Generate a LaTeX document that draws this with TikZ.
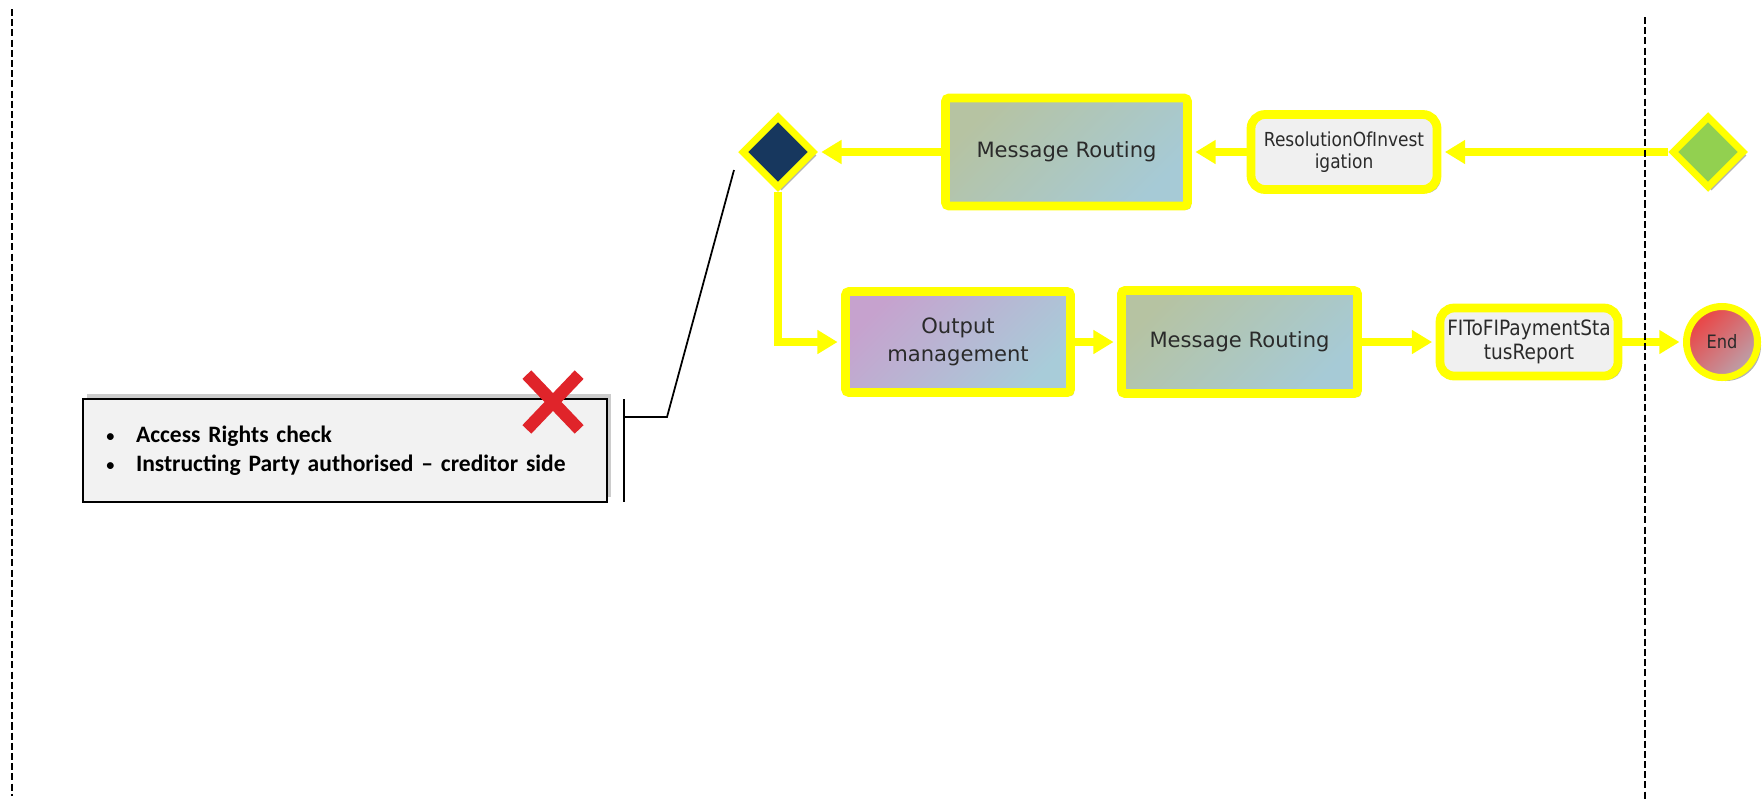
\documentclass[tikz,border=0pt]{standalone}
\usepackage{fontspec}
\setmainfont{Carlito}
\newfontfamily\boxfont{DejaVu Sans}
\newfontfamily\msgfont{DejaVu Sans}[FakeStretch=0.88]
\usepackage{xcolor}
\usepackage{tikz}
\usetikzlibrary{shapes,arrows.meta,positioning,shadows,calc}
\definecolor{clrHilite}{HTML}{FFFF00}
\definecolor{clrGate}{HTML}{17375E}
\definecolor{clrStart}{HTML}{92D050}
\definecolor{clrRouteA}{HTML}{B6C3A2}
\definecolor{clrRouteB}{HTML}{A6CAD6}
\definecolor{clrOutA}{HTML}{C6A2CE}
\definecolor{clrOutB}{HTML}{A8CCD9}
\definecolor{clrMsg}{HTML}{F0F0F0}
\definecolor{clrEndA}{HTML}{EC4242}
\definecolor{clrEndB}{HTML}{BBA2AC}
\definecolor{clrNote}{HTML}{F2F2F2}
\definecolor{clrCross}{HTML}{E0242A}
\definecolor{clrLabel}{HTML}{2A2A2A}
\newcommand{\notebullet}{\makebox[0.66cm][l]{\hspace{0.05cm}{\mdseries\fontsize{11}{11}\selectfont\textbullet}}}
\tikzset{
  shade/.style={drop shadow={shadow xshift=2pt, shadow yshift=-2pt,
    opacity=.3, fill=black}},
  procbox/.style={rectangle, rounded corners=2pt, line width=5pt,
    draw=clrHilite, align=center, inner sep=2pt, text=clrLabel,
    font=\boxfont\fontsize{12}{16}\selectfont, shade},
  msgbox/.style={rectangle, rounded corners=8pt, line width=5pt,
    draw=clrHilite, fill=clrMsg, align=center, inner sep=1pt,
    text=clrLabel, font=\msgfont\fontsize{11}{12.5}\selectfont, shade},
  gate/.style={diamond, aspect=1, inner sep=0pt, minimum size=1.45cm,
    line width=4pt, draw=clrHilite, shade},
  endev/.style={circle, inner sep=0pt, minimum size=1.42cm, line width=4pt,
    draw=clrHilite, text=clrLabel, font=\msgfont\fontsize{10.5}{12}\selectfont,
    shade},
  notebox/.style={rectangle, draw=black, line width=1.1pt, fill=clrNote,
    minimum width=10.48cm, minimum height=2.06cm, inner xsep=0.4cm,
    text width=9.68cm, align=left,
    font=\fontsize{13.4}{16.5}\selectfont\bfseries,
    drop shadow={shadow xshift=2.5pt, shadow yshift=3pt, opacity=.2, fill=black}},
  crossmark/.style={cross out, draw=clrCross, line width=7pt,
    minimum width=0.8cm, minimum height=0.85cm, inner sep=0pt},
  flowarr/.style={-{Triangle[length=11.5pt,width=13pt]}, line width=4pt,
    draw=clrHilite, shorten >=2pt},
  lane/.style={line width=1.4pt, dash pattern=on 4pt off 1.8pt},
  callout/.style={line width=1pt, black},
}

\begin{document}
\begin{tikzpicture}
\useasboundingbox (0,0) rectangle (35.28,-15.98);

\def\ytop{-3.04}
\def\ybot{-6.84}

% ── note with the failed check ─────────────────────────────────────────────
\node[notebox] (note) at (6.9,-9.01)
  {\notebullet Access Rights check\\
   \notebullet Instructing Party authorised -- creditor side};
\node[crossmark] (nay) at (11.06,-8.04) {};

\coordinate (cTop) at (12.48,-7.98);
\coordinate (cBot) at (12.48,-10.04);
\coordinate (cKnee) at (12.48,-8.34);
\coordinate (cPin) at (14.68,-3.40);
\draw[callout] (cTop) -- (cBot);
\draw[callout] (cKnee) -- ++(0.86,0) -- (cPin);

% ── top row: incoming message ──────────────────────────────────────────────
\node[gate, fill=clrGate] (gw) at (15.56,\ytop) {};
\node[procbox, minimum width=4.84cm, minimum height=2.16cm,
  top color=clrRouteA, bottom color=clrRouteB, shading angle=45]
  (mr1) at (21.33,\ytop) {Message Routing};
\node[msgbox, minimum width=3.72cm, minimum height=1.5cm]
  (res) at (26.88,\ytop) {ResolutionOfInvest\\igation};
\node[gate, fill=clrStart] (gs) at (34.16,\ytop) {};

\draw[flowarr] (gs) -- (res);
\draw[flowarr] (res) -- (mr1);
\draw[flowarr] (mr1) -- (gw);

% ── bottom row: outgoing status report ─────────────────────────────────────
\node[procbox, minimum width=4.5cm, minimum height=2.02cm,
  top color=clrOutA, bottom color=clrOutB, shading angle=45]
  (om) at (19.16,\ybot) {Output\\management};
\node[procbox, minimum width=4.72cm, minimum height=2.06cm,
  top color=clrRouteA, bottom color=clrRouteB, shading angle=45]
  (mr2) at (24.79,\ybot) {Message Routing};
\node[msgbox, minimum width=3.56cm, minimum height=1.36cm,
  font=\msgfont\fontsize{12}{13.5}\selectfont]
  (fit) at (30.58,\ybot) {FIToFIPaymentSta\\tusReport};
\node[endev, top color=clrEndA, bottom color=clrEndB, shading angle=45]
  (fin) at (34.44,\ybot) {End};

\draw[flowarr] (gw.south) |- (om.west);
\draw[flowarr] (om) -- (mr2);
\draw[flowarr] (mr2) -- (fit);
\draw[flowarr] (fit) -- (fin);

% ── lane borders ───────────────────────────────────────────────────────────
\coordinate (laneLt) at (0.24,-0.18);
\coordinate (laneLb) at (0.24,-15.92);
\coordinate (laneRt) at (32.9,-0.34);
\coordinate (laneRb) at (32.9,-15.98);
\draw[lane] (laneLt) -- (laneLb);
\draw[lane] (laneRt) -- (laneRb);

\end{tikzpicture}
\end{document}
